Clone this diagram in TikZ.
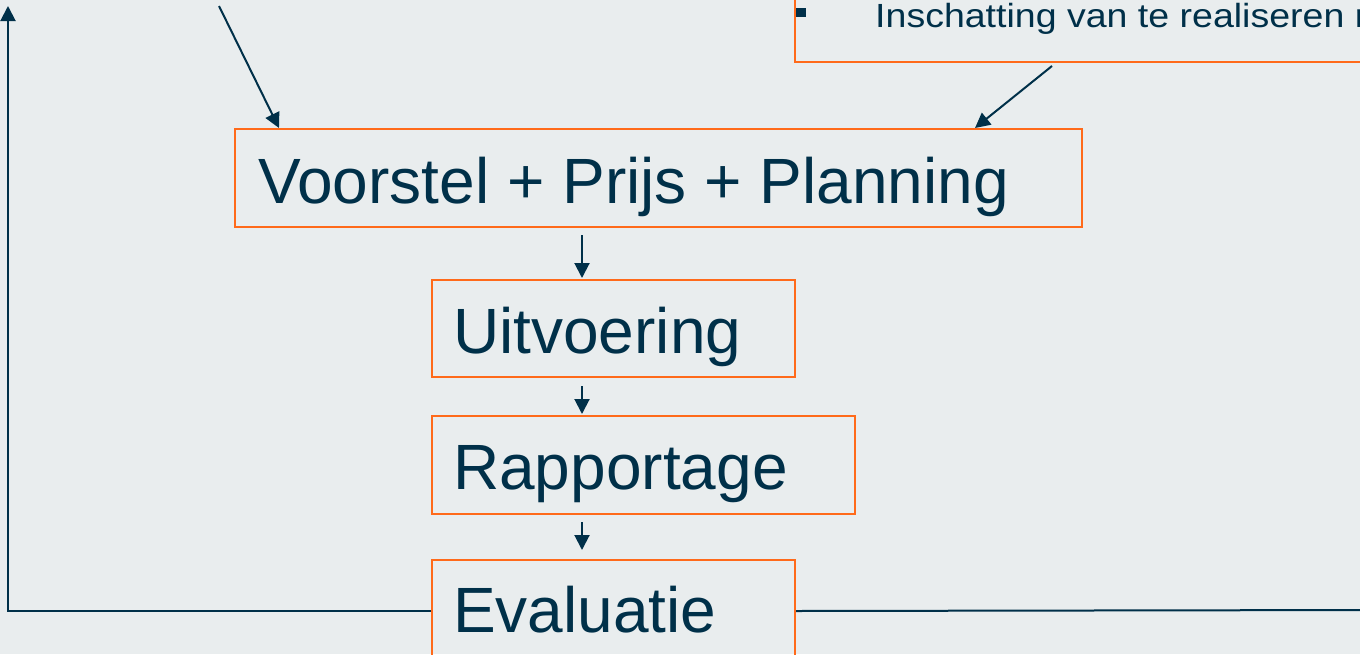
\documentclass[tikz,border=0pt]{standalone}
\usepackage{fontspec}
\setmainfont{Liberation Sans}
\newfontfamily\widefont[FakeStretch=1.12]{Liberation Sans}
\usetikzlibrary{arrows.meta}
\definecolor{bgc}{HTML}{E9EDEE}
\definecolor{navy}{HTML}{003049}
\definecolor{orng}{HTML}{FF6A1A}
\begin{document}
\begin{tikzpicture}[x=1pt,y=-1pt,
  box/.style={draw=orng,line width=2pt,rectangle,inner sep=0pt,anchor=north west},
  lbl/.style={text=navy,inner sep=0pt,anchor=base west,font=\fontsize{64}{70}\selectfont},
  smalllbl/.style={text=navy,inner sep=0pt,anchor=base west,font=\widefont\fontsize{33.5}{38}\selectfont},
  conn/.style={draw=navy,line width=2pt,-{Triangle[length=15pt,width=15pt]}},
  plain/.style={draw=navy,line width=2pt}]
\useasboundingbox (0,0) rectangle (1360,654);
\clip (0,0) rectangle (1360,654);
\fill[bgc] (0,0) rectangle (1360,654);
% top right box
\node[box,anchor=south west,minimum width=700pt,minimum height=100pt] (tr) at (794,63) {};
\node[fill=navy,minimum width=10pt,minimum height=9pt,inner sep=0pt] (bul) at (801,12.5) {};
\node[smalllbl] (trt) at (875,27) {Inschatting van te realiseren resultaten};
% main boxes
\node[box,minimum width=847pt,minimum height=98pt] (v) at (234,128) {};
\node[lbl] (vt) at (258,203) {Voorstel + Prijs + Planning};
\node[box,minimum width=363pt,minimum height=97pt] (u) at (431,279) {};
\node[lbl] (ut) at (453,353) {Uitvoering};
\node[box,minimum width=423pt,minimum height=98pt] (r) at (431,415) {};
\node[lbl] (rt) at (453,489) {Rapportage};
\node[box,minimum width=363pt,minimum height=102pt] (e) at (431,559) {};
\node[lbl] (et) at (453,632) {Evaluatie};
% coordinates
\coordinate (cx) at (582,0);
\coordinate (ls) at (219,6);
\coordinate (le) at (279,128);
\coordinate (rs) at (1052,66);
\coordinate (re) at (975,128);
\coordinate (ltop) at (8,6);
\coordinate (rend) at (1380,610);
% connectors
\draw[conn,shorten <=7pt,shorten >=1pt] (v.south -| cx) -- (u.north -| cx);
\draw[conn,shorten <=8pt,shorten >=1pt] (u.south -| cx) -- (r.north -| cx);
\draw[conn,shorten <=7pt,shorten >=9pt] (r.south -| cx) -- (e.north -| cx);
\draw[conn] (ls) -- (le);
\draw[conn] (rs) -- (re);
\draw[conn] (e.west) -| (ltop);
\draw[plain] (e.east) -- (rend);
\end{tikzpicture}
\end{document}
